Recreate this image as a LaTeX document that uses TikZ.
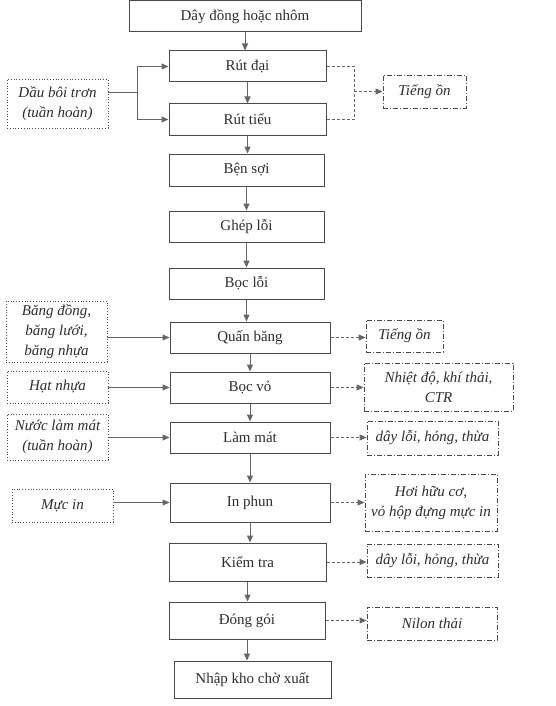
\documentclass[tikz,border=0pt]{standalone}
\usepackage{fontspec}
\setmainfont{Liberation Serif}
\usetikzlibrary{arrows.meta,calc}
\definecolor{ink}{HTML}{2E2E2E}
\definecolor{edge}{HTML}{4A4A4A}
\definecolor{conn}{HTML}{666666}
\tikzset{
  mainbox/.style={draw=edge, line width=1pt, inner sep=0pt, align=center, text=ink, font=\fontsize{15}{20}\selectfont},
  inbox/.style={draw=edge, line width=0.8pt, dotted, inner sep=0pt, align=center, text=ink, font=\fontsize{15}{20}\selectfont\itshape},
  outbox/.style={draw=edge, line width=0.8pt, dash pattern=on 5pt off 2pt on 1pt off 2pt, inner sep=0pt, align=center, text=ink, font=\fontsize{15}{20}\selectfont\itshape},
  arr/.style={draw=conn, line width=1pt, -{Triangle[length=7pt,width=6pt]}},
  ln/.style={draw=conn, line width=1pt},
  darr/.style={draw=conn, line width=1pt, dash pattern=on 3pt off 2pt, -{Triangle[length=7pt,width=6pt]}},
  dln/.style={draw=conn, line width=1pt, dash pattern=on 3pt off 2pt},
}
\begin{document}
\begin{tikzpicture}[x=1pt,y=-1pt]
\useasboundingbox (0,0) rectangle (556,706);
% main column
\node[mainbox, minimum width=232pt, minimum height=31pt] (n0) at (245,16.5) {Dây đồng hoặc nhôm};
\node[mainbox, minimum width=157pt, minimum height=31pt] (n1) at (247.5,66.5) {Rút đại};
\node[mainbox, minimum width=157pt, minimum height=31pt] (n2) at (247.5,119.5) {Rút tiểu};
\node[mainbox, minimum width=155pt, minimum height=32pt] (n3) at (246.5,170) {Bện sợi};
\node[mainbox, minimum width=155pt, minimum height=31pt] (n4) at (246.5,226.5) {Ghép lỗi};
\node[mainbox, minimum width=155pt, minimum height=31pt] (n5) at (246.5,283.5) {Bọc lỗi};
\node[mainbox, minimum width=160pt, minimum height=31pt] (n6) at (250,337.5) {Quấn băng};
\node[mainbox, minimum width=160pt, minimum height=31pt] (n7) at (250,387.5) {Bọc vỏ};
\node[mainbox, minimum width=160pt, minimum height=31pt] (n8) at (250,437.5) {Làm mát};
\node[mainbox, minimum width=160pt, minimum height=39pt] (n9) at (250,502.5) {In phun};
\node[mainbox, minimum width=157pt, minimum height=38pt] (n10) at (247.5,562) {Kiểm tra};
\node[mainbox, minimum width=156pt, minimum height=37pt] (n11) at (247,620.5) {Đóng gói};
\node[mainbox, minimum width=157pt, minimum height=37pt] (n12) at (252.5,679.5) {Nhập kho chờ xuất};
% inputs
\node[inbox, minimum width=101pt, minimum height=49pt] (L1) at (57.5,103.5) {Dầu bôi trơn\\(tuần hoàn)};
\node[inbox, minimum width=101pt, minimum height=61pt] (L2) at (56.5,331.5) {Băng đồng,\\băng lưới,\\băng nhựa};
\node[inbox, minimum width=101pt, minimum height=32pt] (L3) at (57.5,387) {Hạt nhựa};
\node[inbox, minimum width=101pt, minimum height=46pt] (L4) at (57.5,437) {Nước làm mát\\(tuần hoàn)};
\node[inbox, minimum width=101pt, minimum height=33pt] (L5) at (62.5,505.5) {Mực in};
% outputs
\node[outbox, minimum width=83pt, minimum height=33pt] (R1) at (424.5,91.5) {Tiếng ồn};
\node[outbox, minimum width=77pt, minimum height=32pt] (R2) at (404.5,336) {Tiếng ồn};
\node[outbox, minimum width=149pt, minimum height=48pt] (R3) at (438.5,387) {Nhiệt độ, khí thải,\\CTR};
\node[outbox, minimum width=131pt, minimum height=34pt] (R4) at (432.5,438) {dây lỗi, hỏng, thừa};
\node[outbox, minimum width=132pt, minimum height=57pt] (R5) at (431,502.5) {Hơi hữu cơ,\\vỏ hộp đựng mực in};
\node[outbox, minimum width=131pt, minimum height=33pt] (R6) at (432.5,560.5) {dây lỗi, hỏng, thừa};
\node[outbox, minimum width=130pt, minimum height=33pt] (R7) at (432,623.5) {Nilon thải};
% main flow
\foreach \a/\b in {n0/n1,n1/n2,n2/n3,n3/n4,n4/n5,n5/n6,n6/n7,n7/n8,n8/n9,n9/n10,n10/n11,n11/n12}
  \draw[arr] (\a.south) -- (\a.south |- \b.north);
% lubricating oil split
\coordinate (j1) at (137,93);
\draw[ln] (L1.east |- j1) -- (j1);
\draw[arr] (j1) |- (n1.west);
\draw[arr] (j1) |- (n2.west);
% noise from drawing
\coordinate (j2) at (354,91.5);
\draw[dln] (n1.east) -| (j2);
\draw[dln] (n2.east) -| (j2);
\draw[darr] (j2) -- (j2 -| R1.west);
% other inputs
\draw[arr] (L2.east |- n6.west) -- (n6.west);
\draw[arr] (L3.east |- n7.west) -- (n7.west);
\draw[arr] (L4.east |- n8.west) -- (n8.west);
\draw[arr] (L5.east |- n9.west) -- (n9.west);
% other outputs
\draw[darr] (n6.east) -- (n6.east -| R2.west);
\draw[darr] (n7.east) -- (n7.east -| R3.west);
\draw[darr] (n8.east) -- (n8.east -| R4.west);
\draw[darr] (n9.east) -- (n9.east -| R5.west);
\draw[darr] (n10.east) -- (n10.east -| R6.west);
\draw[darr] (n11.east) -- (n11.east -| R7.west);
\end{tikzpicture}
\end{document}
